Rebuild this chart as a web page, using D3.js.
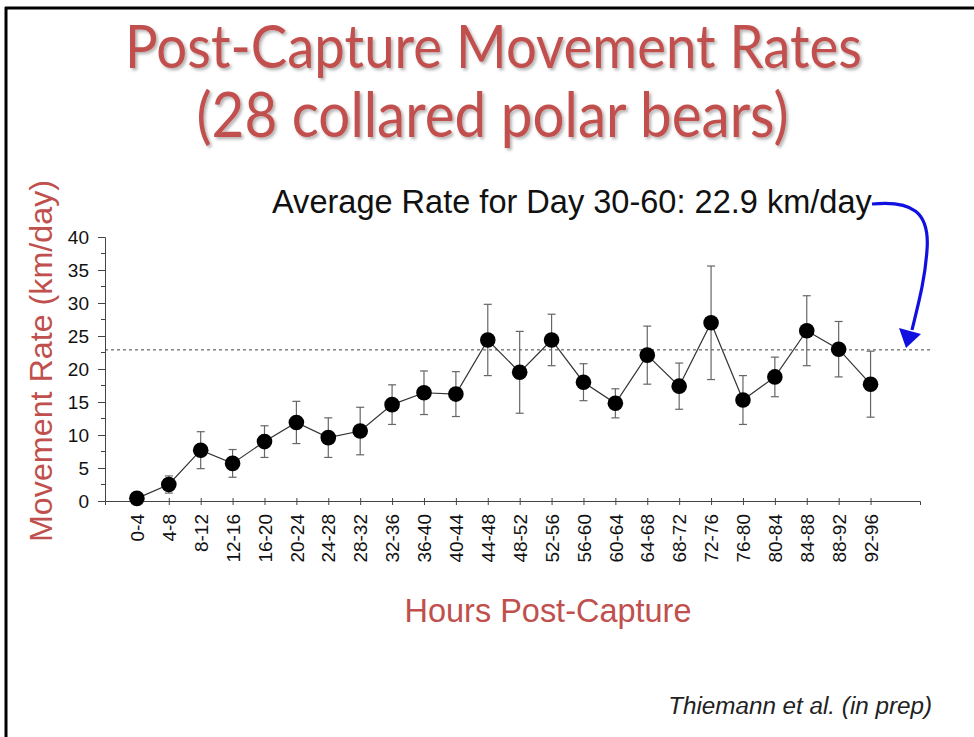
<!DOCTYPE html>
<html><head><meta charset="utf-8">
<script src="https://cdn.jsdelivr.net/npm/d3@7"></script>
<style>html,body{margin:0;padding:0;background:#fff;}svg{display:block;}
.tk text{font-family:'Liberation Sans', Arial, sans-serif !important;font-size:19px !important;fill:#111;}
</style>
</head><body>
<svg id="c" width="974" height="737"></svg>
<script>
const categories = ["0-4","4-8","8-12","12-16","16-20","20-24","24-28","28-32","32-36","36-40","40-44","44-48","48-52","52-56","56-60","60-64","64-68","68-72","72-76","76-80","80-84","84-88","88-92","92-96"];
const rates = [0.4,2.5,7.7,5.7,9.0,11.9,9.6,10.6,14.6,16.4,16.2,24.4,19.5,24.4,18.0,14.8,22.1,17.4,27.0,15.3,18.8,25.8,23.0,17.7];
const errors = [0.3,1.3,2.8,2.1,2.4,3.2,3.0,3.6,3.0,3.3,3.4,5.4,6.2,3.9,2.8,2.2,4.4,3.5,8.6,3.7,3.0,5.3,4.2,5.0];
const yTicks = [0,5,10,15,20,25,30,35,40];
const averageRate = 22.9;
const titleLines = ["Post-Capture Movement Rates","(28 collared polar bears)"];
const annotation = "Average Rate for Day 30-60: 22.9 km/day";
const yLabel = "Movement Rate (km/day)";
const xLabel = "Hours Post-Capture";
const credit = "Thiemann et al. (in prep)";

const svg = d3.select("#c");
const red = "#c0504d";

function fit(sel, w){
  const fs = parseFloat(sel.attr("font-size"));
  const cur = sel.node().getComputedTextLength();
  sel.attr("font-size", (fs*w/cur).toFixed(2));
}

// slide frame
svg.append("line").attr("x1",6).attr("x2",6).attr("y1",7).attr("y2",737).attr("stroke","#000").attr("stroke-width",3);
svg.append("line").attr("x1",5).attr("x2",974).attr("y1",8).attr("y2",8).attr("stroke","#000").attr("stroke-width",3);

// shadow filter
const defs = svg.append("defs");
const f = defs.append("filter").attr("id","sh").attr("x","-5%").attr("y","-20%").attr("width","110%").attr("height","140%");
f.append("feDropShadow").attr("dx",2).attr("dy",2).attr("stdDeviation",1.5).attr("flood-color","#000").attr("flood-opacity",0.3);

// title
const tl = [{t:titleLines[0],cx:493.5,y:68,w:737},{t:titleLines[1],cx:492.5,y:137,w:592}];
tl.forEach(d=>{
  const g = svg.append("g").attr("transform",`translate(${d.cx},${d.y}) scale(1,1.1)`);
  const t = g.append("text").attr("x",0).attr("y",0).attr("text-anchor","middle")
    .attr("font-family","Lato, 'Open Sans', sans-serif").attr("font-size",52).attr("fill",red)
    .attr("filter","url(#sh)").text(d.t);
  fit(t,d.w);
});

const x = d3.scaleLinear().domain([-1, 24.55]).range([105, 920]);
const y = d3.scaleLinear().domain([0,40]).range([501,237]);

// y axis
const yAxis = svg.append("g").attr("class","tk").attr("transform","translate(105,0)")
  .call(d3.axisLeft(y).tickValues(yTicks).tickSize(7).tickPadding(9));
yAxis.attr("font-size",19);
yAxis.select(".domain").attr("stroke","#444");
yAxis.selectAll(".tick line").attr("stroke","#444");
// minor ticks
const minor = d3.range(2.5,40,5);
svg.append("g").selectAll("line").data(minor).join("line")
  .attr("x1",101).attr("x2",105).attr("y1",d=>y(d)).attr("y2",d=>y(d)).attr("stroke","#444");

// x axis
const xAxis = svg.append("g").attr("class","tk").attr("transform","translate(0,501)")
  .call(d3.axisBottom(x).tickValues(d3.range(categories.length)).tickSize(4).tickFormat(i=>categories[i]));
xAxis.attr("font-size",19);
xAxis.select(".domain").attr("stroke","#444");
xAxis.selectAll(".tick line").attr("stroke","#444").attr("y1",-3);
xAxis.selectAll(".tick text")
  .attr("text-anchor","end").attr("transform","rotate(-90)").attr("x",-13).attr("y",0).attr("dy","0.35em");

// average dashed line
svg.append("line").attr("x1",105).attr("x2",930).attr("y1",y(averageRate)).attr("y2",y(averageRate))
  .attr("stroke","#444").attr("stroke-width",1).attr("stroke-dasharray","3,3");

const data = categories.map((c,i)=>({i, v:rates[i], e:errors[i]}));

// error bars
const eb = svg.append("g").attr("stroke","#666").attr("stroke-width",1.2);
eb.selectAll("line.v").data(data).join("line").attr("class","v")
  .attr("x1",d=>x(d.i)).attr("x2",d=>x(d.i)).attr("y1",d=>y(d.v+d.e)).attr("y2",d=>y(d.v-d.e));
eb.selectAll("line.t").data(data).join("line").attr("class","t")
  .attr("x1",d=>x(d.i)-4).attr("x2",d=>x(d.i)+4).attr("y1",d=>y(d.v+d.e)).attr("y2",d=>y(d.v+d.e));
eb.selectAll("line.b").data(data).join("line").attr("class","b")
  .attr("x1",d=>x(d.i)-4).attr("x2",d=>x(d.i)+4).attr("y1",d=>y(d.v-d.e)).attr("y2",d=>y(d.v-d.e));

// connecting line
svg.append("path").datum(data).attr("fill","none").attr("stroke","#333").attr("stroke-width",1.2)
  .attr("d",d3.line().x(d=>x(d.i)).y(d=>y(d.v)));

// points
svg.append("g").selectAll("circle").data(data).join("circle")
  .attr("cx",d=>x(d.i)).attr("cy",d=>y(d.v)).attr("r",7.8).attr("fill","#000");

// annotation
const an = svg.append("text").attr("x",272).attr("y",213).attr("font-family","'Liberation Sans', Arial, sans-serif")
  .attr("font-size",26).attr("fill","#111").text(annotation);
fit(an,600);

// arrow
svg.append("path").attr("d","M872,204 C912,200 930,212 927,250 C925,280 918,305 912,330")
  .attr("fill","none").attr("stroke","#1010e0").attr("stroke-width",3.2);
svg.append("path").attr("d","M899,328 L921,334 L906,348 Z").attr("fill","#1010e0");

// y label
const yl = svg.append("text").attr("transform","translate(52,361) rotate(-90)").attr("text-anchor","middle")
  .attr("font-family","'Liberation Sans', Arial, sans-serif").attr("font-size",26).attr("fill",red).text(yLabel);
fit(yl,362);

// x label
const xl = svg.append("text").attr("x",548).attr("y",622).attr("text-anchor","middle")
  .attr("font-family","'Liberation Sans', Arial, sans-serif").attr("font-size",26).attr("fill",red).text(xLabel);
fit(xl,287);

// credit
const cr = svg.append("text").attr("x",932).attr("y",714).attr("text-anchor","end")
  .attr("font-family","'Liberation Sans', Arial, sans-serif").attr("font-style","italic")
  .attr("font-size",17).attr("fill","#222").text(credit);
fit(cr,264);
</script>
</body></html>
